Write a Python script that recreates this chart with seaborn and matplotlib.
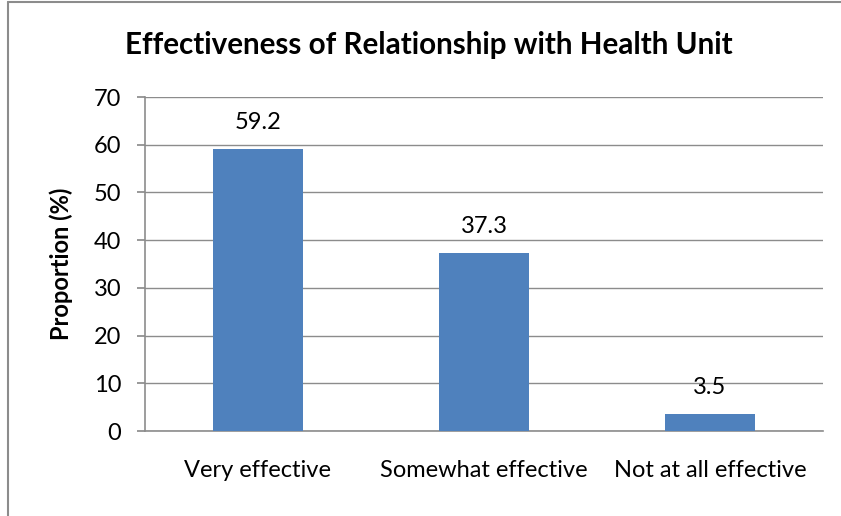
import matplotlib
matplotlib.use("Agg")
import matplotlib.pyplot as plt
from matplotlib.lines import Line2D
import seaborn as sns
import pandas as pd

categories = ["Very effective", "Somewhat effective", "Not at all effective"]
proportions = [59.2, 37.3, 3.5]
yticks = [0, 10, 20, 30, 40, 50, 60, 70]

sns.set_theme(style="white")
plt.rcParams["font.family"] = ["Lato", "DejaVu Sans"]
plt.rcParams["text.color"] = "black"
plt.rcParams["xtick.color"] = "black"
plt.rcParams["ytick.color"] = "black"
plt.rcParams["axes.labelcolor"] = "black"

df = pd.DataFrame({"category": categories, "proportion": proportions})

fig = plt.figure(figsize=(8.41, 5.16), dpi=100)
ax = fig.add_axes([145/841, 1-431/516, (823-145)/841, (431-97)/516])

sns.barplot(data=df, x="category", y="proportion", color="#4F81BD",
            width=0.4, saturation=1, edgecolor="none", ax=ax, zorder=3)

grid = "#8C8C8C"
ax.set_ylim(0, 70)
ax.set_yticks(yticks)
ax.yaxis.grid(True, color=grid, linewidth=1, zorder=0)
ax.set_axisbelow(True)
for s in ["top", "right"]:
    ax.spines[s].set_visible(False)
for s in ["left", "bottom"]:
    ax.spines[s].set_color(grid)
    ax.spines[s].set_linewidth(1.2)
ax.tick_params(axis="y", left=True, length=6, color=grid, labelsize=17, pad=11)
ax.tick_params(axis="x", bottom=False, labelsize=17, pad=15)
ax.set_xlabel("")
ax.set_ylabel("Proportion (%)", fontsize=17, fontweight="bold", labelpad=15)

for i, v in enumerate(proportions):
    ax.annotate(f"{v}", (i, v), xytext=(0, 19), textcoords="offset points",
                ha="center", va="center", fontsize=17)

fig.text(429/841, 1-45/516, "Effectiveness of Relationship with Health Unit",
         ha="center", va="center", fontsize=21.3, fontweight="bold")

# outer frame fragment (chart cropped from a document)
fig.add_artist(Line2D([8/841, 8/841], [0, 1-2/516], transform=fig.transFigure,
                      color="#8C8C8C", linewidth=1.5))
fig.add_artist(Line2D([8/841, 1], [1-2/516, 1-2/516], transform=fig.transFigure,
                      color="#8C8C8C", linewidth=1.5))

fig.savefig("out.png", dpi=100)
